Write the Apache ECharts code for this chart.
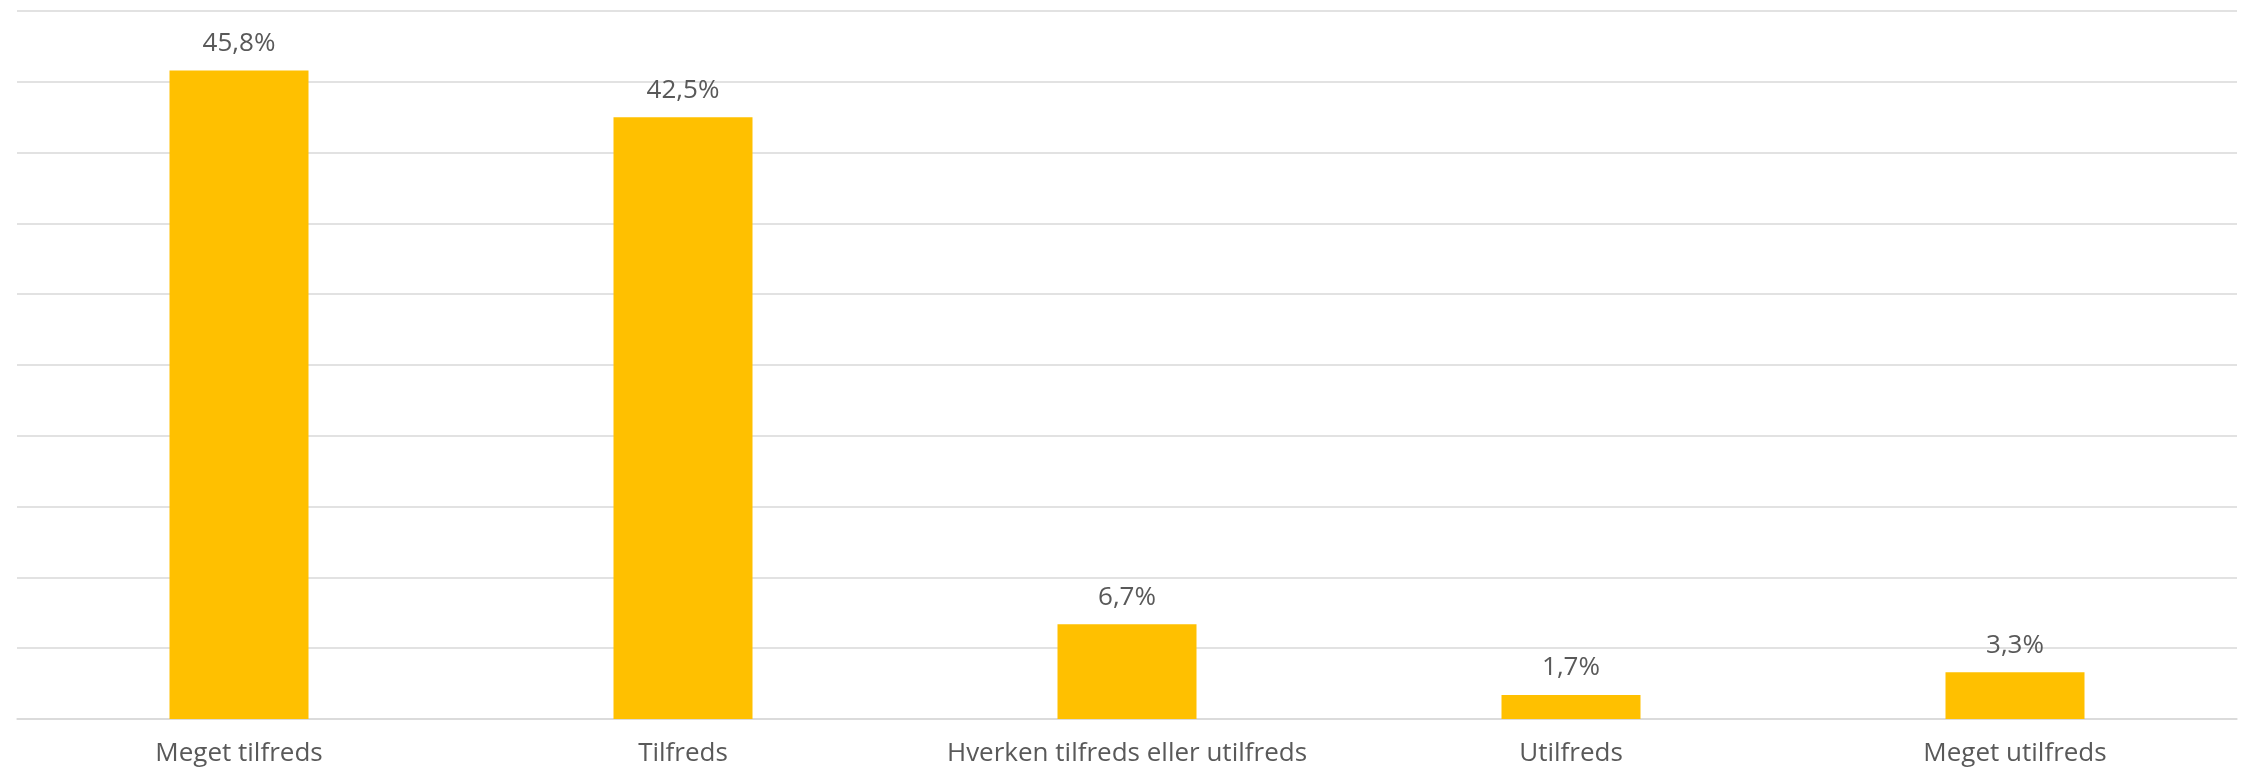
<!DOCTYPE html>
<html>
<head>
<meta charset="utf-8">
<script src="https://cdn.jsdelivr.net/npm/echarts@6/dist/echarts.min.js"></script>
<style>html,body{margin:0;padding:0;background:#fff;}#c{width:2247px;height:772px;}</style>
</head>
<body>
<div id="c"></div>
<script>
const categories = ['Meget tilfreds', 'Tilfreds', 'Hverken tilfreds eller utilfreds', 'Utilfreds', 'Meget utilfreds'];
const values = [45.8, 42.5, 6.7, 1.7, 3.3];

const chart = echarts.init(document.getElementById('c'), null, {renderer: 'canvas'});
chart.setOption({
  animation: false,
  backgroundColor: '#ffffff',
  grid: {left: 17, right: 10, top: 11, bottom: 53, containLabel: false},
  xAxis: {
    type: 'category',
    data: categories,
    axisLine: {show: true, lineStyle: {color: '#d9d9d9', width: 1.5}},
    axisTick: {show: false},
    axisLabel: {interval: 0, color: '#595959', fontSize: 26, fontFamily: 'Open Sans, Liberation Sans, sans-serif', margin: 22}
  },
  yAxis: {
    type: 'value',
    min: 0, max: 50, interval: 5,
    axisLabel: {show: false},
    axisLine: {show: false},
    axisTick: {show: false},
    splitLine: {lineStyle: {color: '#d9d9d9', width: 1.5}}
  },
  series: [{
    type: 'bar',
    data: values,
    barWidth: 139,
    itemStyle: {color: '#FFC000'},
    label: {
      show: true,
      position: 'top',
      distance: 14,
      color: '#595959',
      fontSize: 26,
      fontFamily: 'Open Sans, Liberation Sans, sans-serif',
      formatter: p => p.value.toFixed(1).replace('.', ',') + '%'
    }
  }]
});
</script>
</body>
</html>
